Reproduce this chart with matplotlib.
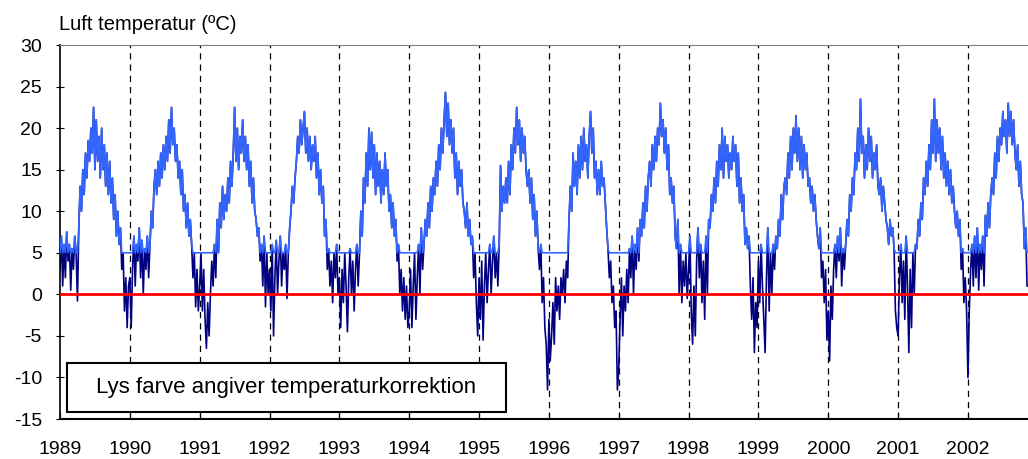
import numpy as np
import matplotlib.pyplot as plt
from matplotlib.patches import Rectangle

plt.rcParams['font.family'] = ['Liberation Sans', 'DejaVu Sans']
plt.rcParams['axes.unicode_minus'] = False

# weekly air temperatures (degC), one list per year
years = list(range(1989, 2003))

temp_1989 = [3, 7, 1, 6, 2, 7.5, 4, 6, 0.5, 5.5, 3, 7, 5, -0.8, 8,
             13, 10, 15, 12, 17, 14, 18.5,
             16, 20, 17, 22.5, 15, 21, 16, 19, 14,
             20, 15, 18, 13, 17, 12, 16, 11, 14,
             9, 12, 7, 10, 6, 8,
             3, 5, -2, 2, -4, 1]
temp_1990 = [2, -4, 3, 7, 1, 6, 4, 8, 2, 6.5, 0, 5.5, 3, 7, 2, 6,
             10, 8, 13,
             15, 12, 16, 13, 17, 14, 18, 15,
             19, 16, 21, 17, 22.5, 18, 20, 16,
             18, 14, 16, 12, 15,
             10, 12, 8, 11, 7, 9, 6,
             2, 5, -1.5, 3, -2]
temp_1991 = [1, 5, -2, 3,
             -3, -6.5, -1, -5, 0,
             4, 1, 6, 2, 9, 5,
             11, 8, 13, 9, 12, 10, 14, 11,
             16, 13, 17, 22.5,
             16, 20, 15, 19, 17, 21, 16, 19, 15, 18,
             13, 16, 11, 14, 10,
             9, 7, 8, 4, 6,
             1, 7, -1.5, 5, 0]
temp_1992 = [3, -2, 6, -5, 2, 6.5, 0, 4, 7, 1, 5, 3, 6, -0.5, 5, 8,
             10, 13, 11, 14,
             16, 19, 17, 21, 18, 20,
             22, 17, 20, 16, 19, 15, 18, 16, 19, 14, 17,
             12, 15, 11, 13,
             7, 9, 3,
             5.5, 1, 4, -1, 5, 2, 6, 0]
temp_1993 = [2, -4, 3, -1, 5, 1, -4.5, 2, 5.5, 0, 4, -2, 3, 6, 1, 5,
             10, 7, 14, 11, 17, 13, 20,
             15, 19.5, 14, 18, 12, 17, 13, 16, 11, 15, 12, 17, 13, 15,
             10, 12, 8, 11, 7,
             9, 4, 6, 0, 3,
             -2, 2, -3, 1, -4]
temp_1994 = [-2, 3, -4, 1, 5, -3, 2, 6, 0, 8, 3, 6,
             9, 7, 11, 8, 13, 10, 14,
             12, 16, 13, 18, 15, 20, 17, 21,
             24.3, 19, 23, 18, 21, 17, 20,
             14, 17, 12, 16, 13, 15, 11,
             10, 8, 11, 7, 9, 6, 7,
             2, 5, -1, -5]
temp_1995 = [2, -3, 4, -5.5, 1, 5, -1, 3, 6, 0, 4, 7, 2, 5, 1, 6,
             15.5, 10, 13, 11,
             14, 11, 16, 12, 18,
             15, 20, 17, 22.5, 18, 21, 16, 20, 17, 19, 15,
             13, 15, 11, 14, 9, 12, 7, 10,
             5.5, 3, 6, -1, 2, -4, -6, -11.5]
temp_1996 = [-3, -8, -5, -1, -6, 2, -2, 1, -3, 2, 0, 3, -1, 4, 2,
             9, 13, 10, 17,
             13, 16, 12, 18, 14, 19, 15, 20, 16, 18, 14, 19,
             22, 17, 20, 14, 16, 12, 15, 12, 16, 13, 14, 11,
             8, 5.5, 2, 4,
             -1, 1, -4, -2, -11.5]
temp_1997 = [-9, -3, 2, -5, 1, -2, 3, -1,
             5.5, 2, 7, 0, 6, 3, 8, 4,
             9, 7, 11, 8, 13, 10, 14,
             16, 13, 18, 15, 19, 16, 20, 18,
             23, 19, 21, 17, 20, 15, 18,
             12, 14, 11, 13,
             7, 5.5, 9, 0, 6, -1, 4, 1, 5, -0.5]
temp_1998 = [3, 7, -2, -6, 1, -5, 4, 8, 2,
             6, -1, 4, -3, 7, 0, 9,
             8, 12, 10, 14, 11,
             16, 13, 18, 15, 20, 14, 19, 16, 18, 14, 17, 15, 19, 16, 18, 13, 17,
             11, 14, 10, 12,
             6, 8, 5.5, 7,
             1, -3, 2, -7, -1, -4]
temp_1999 = [4, -1, 6, 1, -3, -7, 2, 8, -2, 5, 0,
             6, 3, 7, 5.5,
             9, 7, 12, 9, 13,
             14, 12, 17, 14, 19, 15, 20, 17,
             21.5, 16, 20, 15, 19, 14, 18, 15, 17, 13,
             14, 11, 13, 10, 12, 9,
             7, 5.5, 8, 2, 4, -1, 3, -5.5]
temp_2000 = [-2, -8, 1, -3, 3,
             6, 2, 7, 4, 8, 1, 5.5, 3, 6,
             9, 7, 12, 10,
             14, 12, 17, 15, 20, 16,
             23.5, 17, 19, 14, 18, 15, 20, 16, 19, 14, 17, 15, 18, 13,
             12, 14, 10, 13, 11, 9,
             8, 6, 9, 7, 8, 5.5,
             -2, -4]
temp_2001 = [-5, 2, 6, -1, 4, -3, 7, 1, -7, 3, -4, 5, 0, 6,
             5.5, 9, 7,
             11, 9, 14, 12, 16, 13,
             18, 15, 21, 17, 23.5,
             16, 21, 17, 20, 15, 19, 14, 17,
             13, 16, 12, 15, 11, 13, 10,
             8, 10, 7, 9,
             3, 5.5, -1, 2, -2]
temp_2002 = [-10, -2, 3, 6, 1, 7, 2, 8, 0.5, 6, 3, 7, 1,
             9.5, 7, 11, 8, 12,
             14, 12, 17, 14, 19, 16, 20,
             18, 22, 19, 21, 17, 23, 19, 22, 18, 21, 17,
             15, 18, 13, 16, 12,
             11, 5.5, 8, 1]

yearly = [temp_1989, temp_1990, temp_1991, temp_1992, temp_1993, temp_1994,
          temp_1995, temp_1996, temp_1997, temp_1998, temp_1999, temp_2000,
          temp_2001, temp_2002]

corr_limit = 5  # light line: temperature corrected up to 5 degC

x = []
raw = []
for yr, vals in zip(years, yearly):
    for w, v in enumerate(vals):
        x.append(yr + w / 52)
        raw.append(v)
x = np.array(x)
raw = np.array(raw)
corrected = np.maximum(raw, corr_limit)

fig = plt.figure(figsize=(10.28, 4.59), dpi=100)
ax = fig.add_axes([60 / 1028, 1 - 419 / 459, 1 - 60 / 1028, 374 / 459])

for yr in years[1:]:
    ax.axvline(yr, color='black', linestyle=(0, (5, 4)), linewidth=0.9, zorder=1)

ax.plot(x, raw, color='#000080', linewidth=1.2, zorder=2)
ax.plot(x, corrected, color='#3366FF', linewidth=1.2, zorder=3)
ax.axhline(0, color='red', linewidth=2, zorder=4)

ax.set_xlim(1989, 2002.86)
ax.set_ylim(-15, 30)
ax.set_yticks(np.arange(-15, 31, 5))
ax.set_xticks(years)
ax.tick_params(axis='x', direction='in', length=5, pad=16, labelsize=14)
ax.tick_params(axis='y', direction='inout', length=6, labelsize=14, pad=10)

ax.spines['right'].set_visible(False)
ax.spines['top'].set_color('#808080')
ax.spines['left'].set_linewidth(1.2)
ax.spines['bottom'].set_linewidth(1.5)

fig.text(59 / 1028, 1 - 24 / 459, 'Luft temperatur (ºC)', fontsize=14.5,
         ha='left', va='center')

ax.add_patch(Rectangle((0.0072, 0.0187), 0.4535, 0.131, transform=ax.transAxes,
                       facecolor='white', edgecolor='black', linewidth=1.5,
                       zorder=5))
ax.text(0.234, 0.0837, 'Lys farve angiver temperaturkorrektion', fontsize=16,
        ha='center', va='center', transform=ax.transAxes, zorder=6)

fig.savefig('out.png', dpi=100)
